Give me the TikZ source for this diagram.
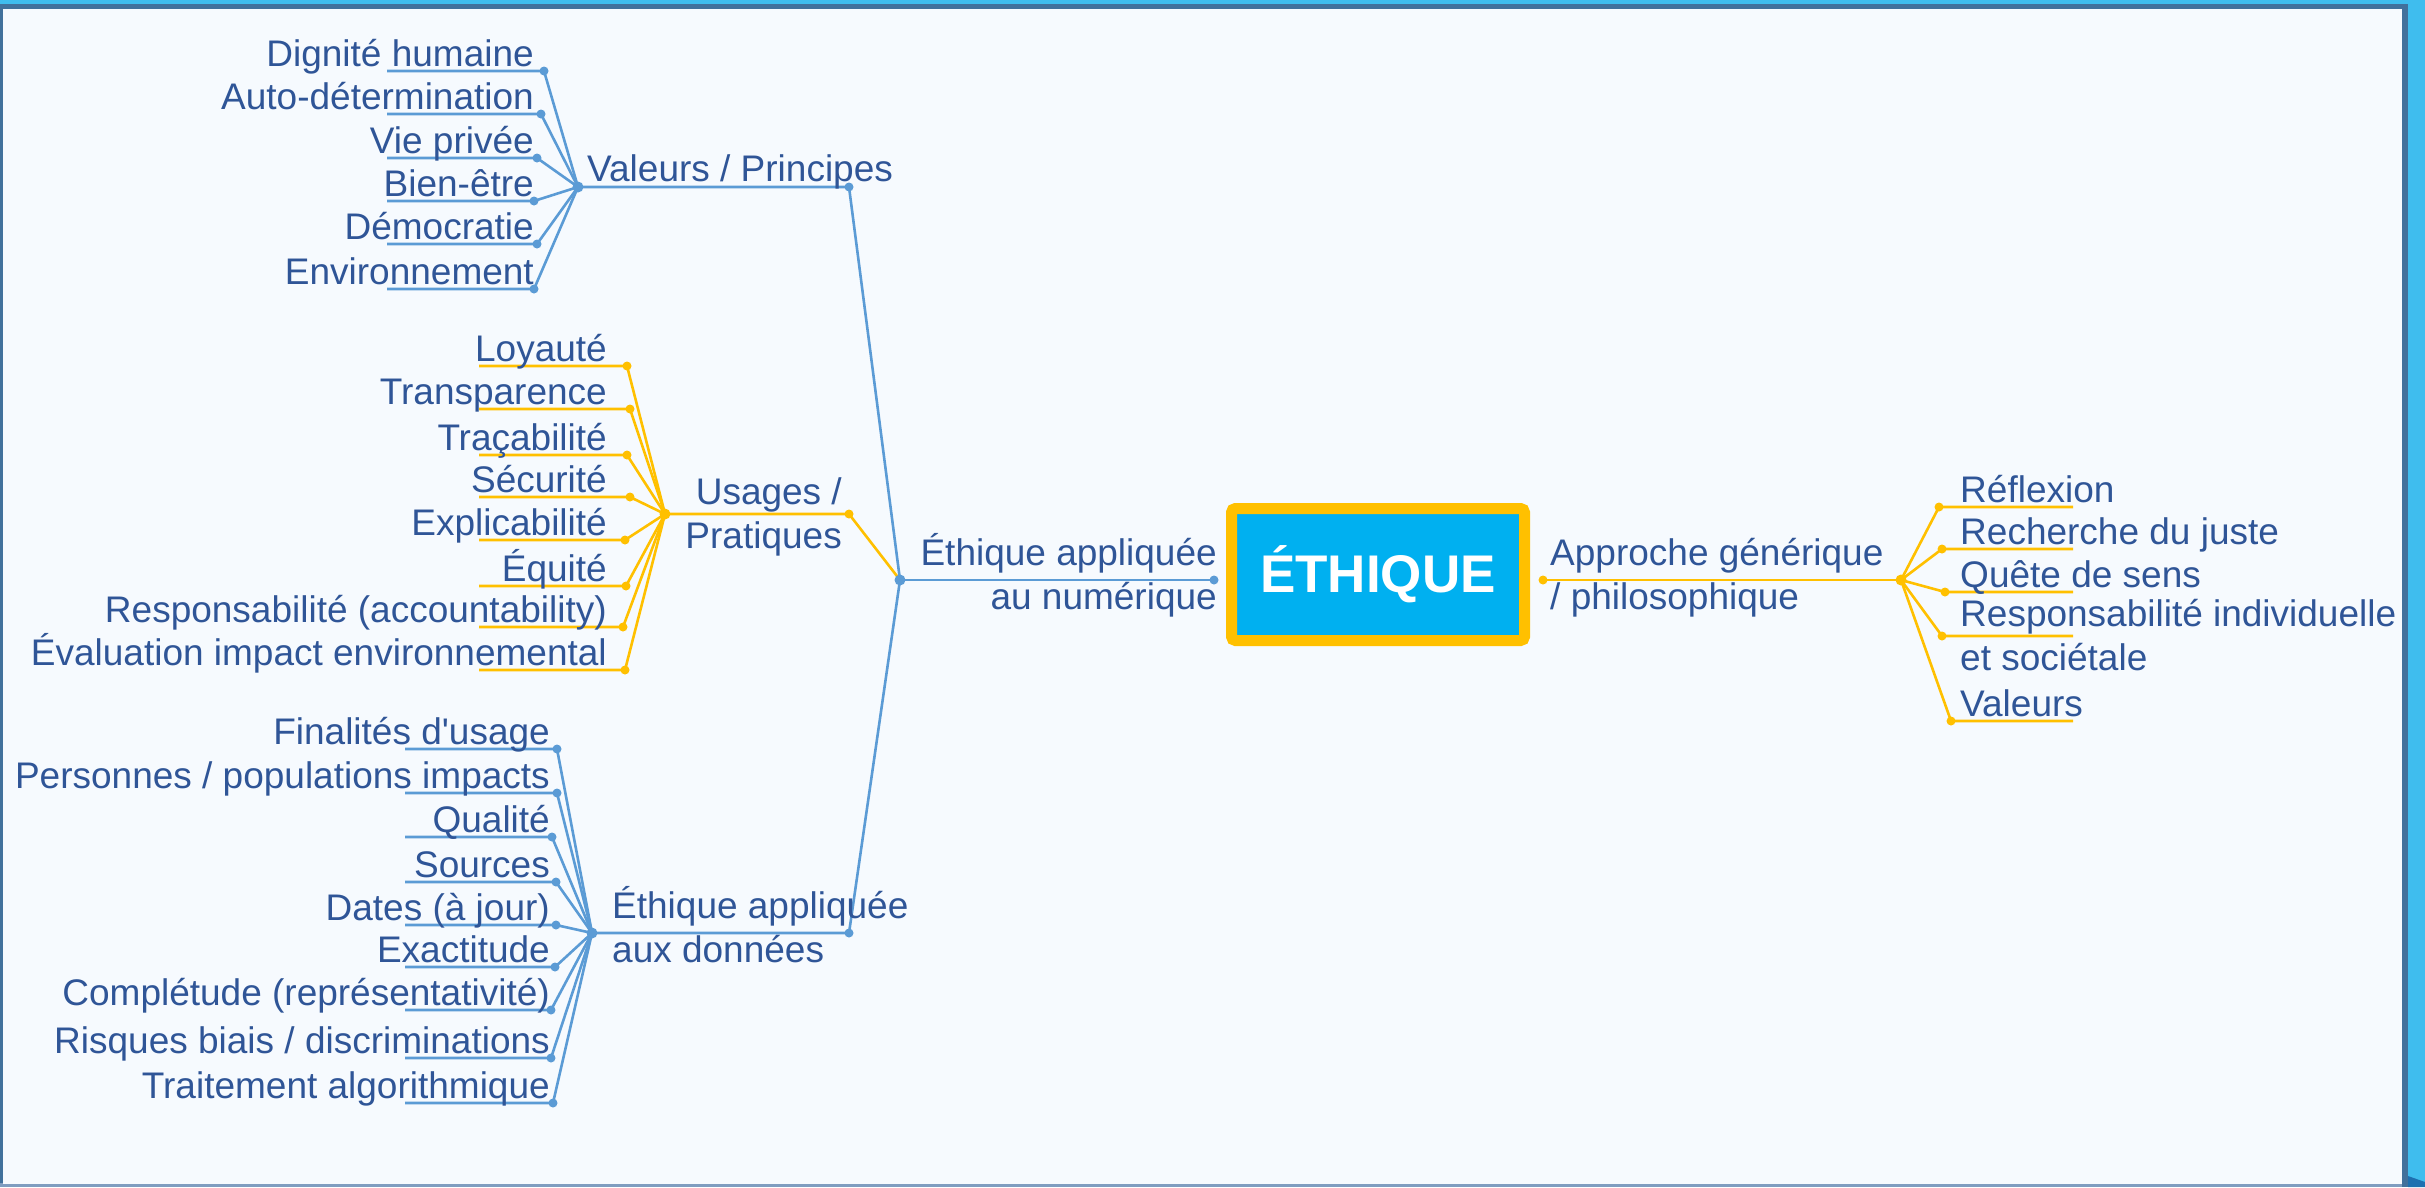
\documentclass[tikz,border=0pt]{standalone}
\usepackage{fontspec}
\setmainfont{Liberation Sans}
\pgfdeclarelayer{back}
\pgfdeclarelayer{bg}
\pgfsetlayers{back,bg,main}
\definecolor{txtc}{HTML}{2F5597}
\definecolor{lblue}{HTML}{5B9BD5}
\definecolor{lorange}{HTML}{FFC000}
\definecolor{boxc}{HTML}{00B0F0}
\definecolor{panelc}{HTML}{F6FAFE}
\definecolor{cyanc}{HTML}{3FBDEE}
\definecolor{darkc}{HTML}{41719C}
\definecolor{curlc}{HTML}{1E70B0}
\definecolor{botc}{HTML}{7F9DC0}
\newcommand\leafcol{lblue}
% #1 name, #2 dot x, #3 y, #4 underline far x, #5 text x, #6 anchor, #7 hub, #8 text
\newcommand\mmleaf[8]{%
  \node[dotn,fill=\leafcol] (#1) at (#2,#3) {};
  \coordinate (#1u) at (#4,#3);
  \node[txt,anchor=#6] (#1t) at (#5,#3-5) {#8};
  \begin{pgfonlayer}{bg}
    \draw[conn,draw=\leafcol] (#1u) -- (#1.center) -- (#7.center);
  \end{pgfonlayer}
}
\begin{document}
\begin{tikzpicture}[x=1pt,y=-1pt,
  txt/.style={text=txtc,font=\fontsize{37}{43.5}\selectfont,inner sep=0pt},
  conn/.style={line width=2.6pt},
  dotn/.style={circle,inner sep=0pt,minimum size=9pt},
  hubn/.style={circle,inner sep=0pt,minimum size=11pt}]
\useasboundingbox (0,0) rectangle (2425,1187);
% frame
\begin{pgfonlayer}{back}
  \fill[cyanc] (0,0) rectangle (2425,1187);
  \fill[darkc] (0,4) rectangle (2408,1187);
  \fill[botc] (0,1183) rectangle (2402,1187);
  \fill[panelc] (3,9) rectangle (2402,1184);
  \fill[curlc] (2408,1176) -- (2425,1182) -- (2425,1187) -- (2408,1187) -- cycle;
\end{pgfonlayer}
% central node
\node[draw=lorange,fill=boxc,line width=11pt,rounded corners=4pt,minimum width=293pt,
  minimum height=132pt,inner sep=0pt,text=white,font=\fontsize{53}{60}\selectfont\bfseries]
  (eth) at (1378,574.5) {ÉTHIQUE};
% hubs
\node[hubn,fill=lblue] (hN) at (900,580) {};
\node[dotn,fill=lblue] (pN) at (1214,580) {};
\node[hubn,fill=lblue] (hV) at (578,187) {};
\node[dotn,fill=lblue] (pV) at (849,187) {};
\node[hubn,fill=lorange] (hU) at (665,514) {};
\node[dotn,fill=lorange] (pU) at (849,514) {};
\node[hubn,fill=lblue] (hD) at (592,933) {};
\node[dotn,fill=lblue] (pD) at (849,933) {};
\node[dotn,fill=lorange] (pA) at (1543,580) {};
\node[hubn,fill=lorange] (hA) at (1901,580) {};
% branch texts (base anchor = last line)
\node[txt,align=right,anchor=base east] (tN) at (1217,609) {Éthique appliquée\\au numérique};
\node[txt,anchor=base west] (tV) at (587,181) {Valeurs / Principes};
\node[txt,align=right,anchor=base east] (tU) at (842,548) {Usages /\\Pratiques};
\node[txt,align=left,anchor=base west] (tD) at (612,962) {Éthique appliquée\\aux données};
\node[txt,align=left,anchor=base west] (tA) at (1550,609) {Approche générique\\/ philosophique};
% branch lines
\begin{pgfonlayer}{bg}
  \draw[conn,draw=lblue] (hN.center) -- (pN.center);
  \draw[conn,draw=lblue] (hV.center) -- (pV.center) -- (hN.center);
  \draw[conn,draw=lorange] (hU.center) -- (pU.center) -- (hN.center);
  \draw[conn,draw=lblue] (hD.center) -- (pD.center) -- (hN.center);
  \draw[conn,draw=lorange] (pA.center) -- (hA.center);
\end{pgfonlayer}
% Valeurs / Principes leaves
\renewcommand\leafcol{lblue}
\mmleaf{v1}{544}{71}{387}{534}{base east}{hV}{Dignité humaine}
\mmleaf{v2}{541}{114}{387}{534}{base east}{hV}{Auto-détermination}
\mmleaf{v3}{537}{158}{387}{534}{base east}{hV}{Vie privée}
\mmleaf{v4}{534}{201}{387}{534}{base east}{hV}{Bien-être}
\mmleaf{v5}{537}{244}{387}{534}{base east}{hV}{Démocratie}
\mmleaf{v6}{534}{289}{387}{534}{base east}{hV}{Environnement}
% Usages / Pratiques leaves
\renewcommand\leafcol{lorange}
\mmleaf{u1}{627}{366}{479}{607}{base east}{hU}{Loyauté}
\mmleaf{u2}{630}{409}{479}{607}{base east}{hU}{Transparence}
\mmleaf{u3}{627}{455}{479}{607}{base east}{hU}{Traçabilité}
\mmleaf{u4}{630}{497}{479}{607}{base east}{hU}{Sécurité}
\mmleaf{u5}{625}{540}{479}{607}{base east}{hU}{Explicabilité}
\mmleaf{u6}{626}{586}{479}{607}{base east}{hU}{Équité}
\mmleaf{u7}{623}{627}{479}{607}{base east}{hU}{Responsabilité (accountability)}
\mmleaf{u8}{625}{670}{479}{607}{base east}{hU}{Évaluation impact environnemental}
% Donnees leaves
\renewcommand\leafcol{lblue}
\mmleaf{d1}{557}{749}{405}{550}{base east}{hD}{Finalités d\textquotesingle usage}
\mmleaf{d2}{557}{793}{405}{550}{base east}{hD}{Personnes / populations impacts}
\mmleaf{d3}{552}{837}{405}{550}{base east}{hD}{Qualité}
\mmleaf{d4}{556}{882}{405}{550}{base east}{hD}{Sources}
\mmleaf{d5}{556}{925}{405}{550}{base east}{hD}{Dates (à jour)}
\mmleaf{d6}{555}{967}{405}{550}{base east}{hD}{Exactitude}
\mmleaf{d7}{551}{1010}{405}{550}{base east}{hD}{Complétude (représentativité)}
\mmleaf{d8}{551}{1058}{405}{550}{base east}{hD}{Risques biais / discriminations}
\mmleaf{d9}{553}{1103}{405}{550}{base east}{hD}{Traitement algorithmique}
% Approche leaves
\renewcommand\leafcol{lorange}
\mmleaf{r1}{1939}{507}{2073}{1960}{base west}{hA}{Réflexion}
\mmleaf{r2}{1942}{549}{2073}{1960}{base west}{hA}{Recherche du juste}
\mmleaf{r3}{1945}{592}{2073}{1960}{base west}{hA}{Quête de sens}
\mmleaf{r4}{1942}{636}{2073}{1960}{base west,align=left,yshift=-39pt}{hA}{Responsabilité individuelle\\et sociétale}
\mmleaf{r5}{1951}{721}{2073}{1960}{base west}{hA}{Valeurs}
\end{tikzpicture}
\end{document}
